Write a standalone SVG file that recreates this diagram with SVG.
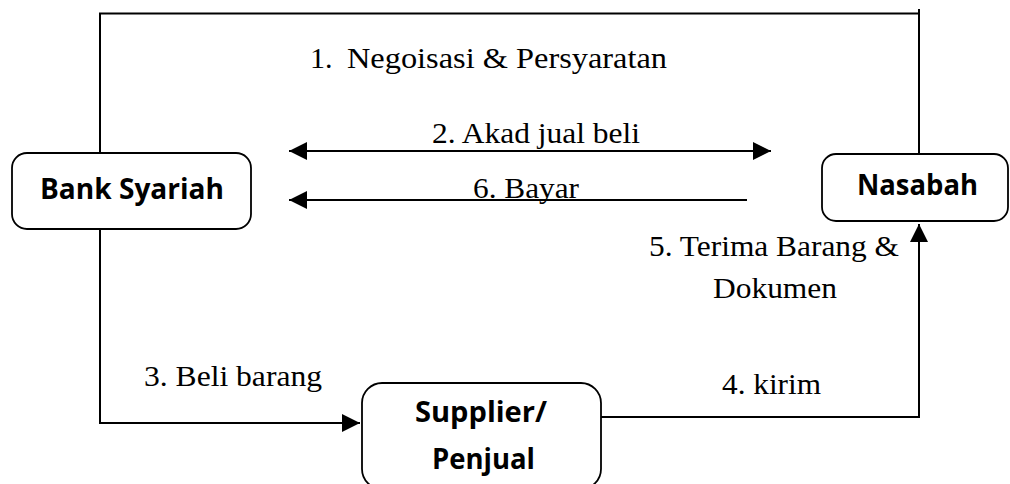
<svg xmlns="http://www.w3.org/2000/svg" width="1010" height="484" viewBox="0 0 1010 484">
<defs>
<style>
.node{fill:#fff;stroke:#000;stroke-width:1.8}
.bold{font-family:"Open Sans","Liberation Sans",sans-serif;font-weight:bold;font-size:28.5px;fill:#000}
.lbl{font-family:"Liberation Serif","Times New Roman",serif;font-size:30px;fill:#000}
.conn{fill:none;stroke:#000;stroke-width:2}
</style>
<marker id="ah" viewBox="0 0 18 18" refX="18" refY="9" markerWidth="18" markerHeight="18" markerUnits="userSpaceOnUse" orient="auto-start-reverse">
<path d="M0,0 L18,9 L0,18 Z" fill="#000"/>
</marker>
</defs>
<rect width="1010" height="484" fill="#fff"/>
<g id="connectors">
<polyline class="conn" points="100,153 100,13.5 919,13.5 919,9"/>
<line class="conn" x1="919" y1="13" x2="919" y2="155"/>
<line class="conn" x1="289" y1="151" x2="771" y2="151" marker-start="url(#ah)" marker-end="url(#ah)"/>
<line class="conn" x1="747" y1="200" x2="289" y2="200" marker-end="url(#ah)"/>
<polyline class="conn" points="100,229 100,423 360,423" marker-end="url(#ah)"/>
<polyline class="conn" points="601,417 919,417 919,224" marker-end="url(#ah)"/>
</g>
<g id="labels">
<text class="lbl" y="68"><tspan x="310">1.</tspan><tspan x="347" textLength="320" lengthAdjust="spacingAndGlyphs">Negoisasi &amp; Persyaratan</tspan></text>
<text class="lbl" x="432" y="143" textLength="208" lengthAdjust="spacingAndGlyphs">2. Akad jual beli</text>
<text class="lbl" x="473" y="198" textLength="106" lengthAdjust="spacingAndGlyphs">6. Bayar</text>
<text class="lbl" x="649" y="256" textLength="250" lengthAdjust="spacingAndGlyphs">5. Terima Barang &amp;</text>
<text class="lbl" x="713" y="298" textLength="124" lengthAdjust="spacingAndGlyphs">Dokumen</text>
<text class="lbl" x="144" y="386" textLength="178" lengthAdjust="spacingAndGlyphs">3. Beli barang</text>
<text class="lbl" x="722" y="394" textLength="99" lengthAdjust="spacingAndGlyphs">4. kirim</text>
</g>
<g id="bank-syariah">
<rect class="node" x="12" y="153" width="239" height="76" rx="15"/>
<text class="bold" x="40" y="199" textLength="184" lengthAdjust="spacingAndGlyphs">Bank Syariah</text>
</g>
<g id="nasabah">
<rect class="node" x="822" y="154" width="186" height="67" rx="14"/>
<text class="bold" x="857" y="195" textLength="121" lengthAdjust="spacingAndGlyphs">Nasabah</text>
</g>
<g id="supplier-penjual">
<rect class="node" x="362" y="383" width="239" height="106" rx="20"/>
<text class="bold" x="415" y="422" textLength="132" lengthAdjust="spacingAndGlyphs">Supplier/</text>
<text class="bold" x="432" y="469" textLength="103" lengthAdjust="spacingAndGlyphs">Penjual</text>
</g>
</svg>
